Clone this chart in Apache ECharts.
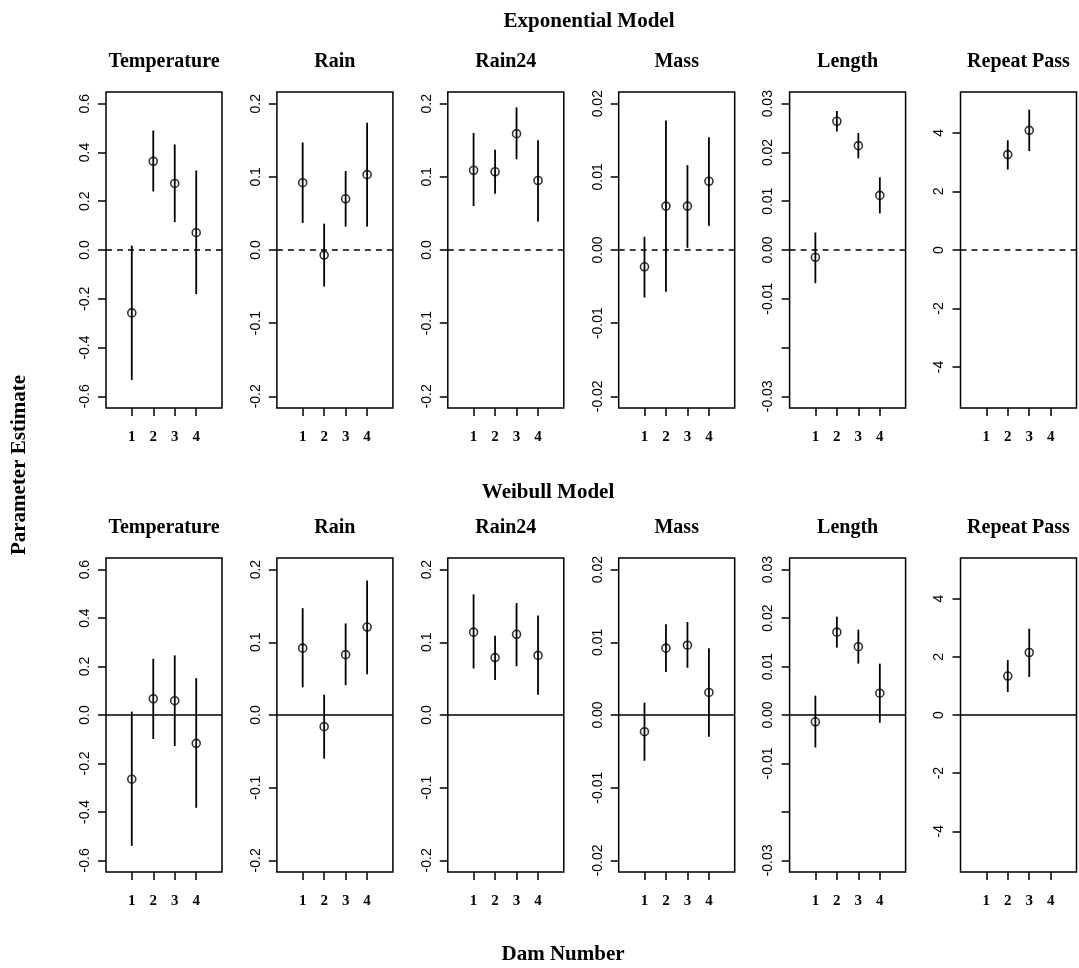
<!DOCTYPE html>
<html>
<head>
<meta charset="utf-8">
<script src="https://cdn.jsdelivr.net/npm/echarts@6/dist/echarts.min.js"></script>
<style>
  html, body { margin: 0; padding: 0; background: #fff; }
  #chart { width: 1079px; height: 968px; }
</style>
</head>
<body>
<div id="chart"></div>
<script>
// Parameters (one panel each) and dam numbers on the x axis
const params = ['Temperature', 'Rain', 'Rain24', 'Mass', 'Length', 'Repeat Pass'];
const dams = [1, 2, 3, 4];

// Y tick values per parameter
const tempTicks = [-0.6, -0.4, -0.2, 0, 0.2, 0.4, 0.6];
const rainTicks = [-0.2, -0.1, 0, 0.1, 0.2];
const rain24Ticks = [-0.2, -0.1, 0, 0.1, 0.2];
const massTicks = [-0.02, -0.01, 0, 0.01, 0.02];
const lengthTicks = [-0.03, -0.02, -0.01, 0, 0.01, 0.02, 0.03];
const lengthLabels = [-0.03, -0.01, 0, 0.01, 0.02, 0.03];
const repeatTicks = [-4, -2, 0, 2, 4];
// Symmetric data limits of each y axis, and label decimals
const yLimits = [0.6, 0.2, 0.2, 0.02, 0.03, 5];
const yDecimals = [1, 1, 1, 2, 2, 0];

// Exponential model: estimate and interval per parameter (rows) and dam (columns)
const expEst = [
  [-0.258, 0.364, 0.273, 0.071],
  [0.092, -0.007, 0.070, 0.103],
  [0.109, 0.107, 0.159, 0.095],
  [-0.0023, 0.0060, 0.0060, 0.0094],
  [-0.0015, 0.0264, 0.0214, 0.0112],
  [null, 3.26, 4.09, null]
];
const expLow = [
  [-0.533, 0.240, 0.114, -0.181],
  [0.037, -0.050, 0.032, 0.032],
  [0.060, 0.077, 0.124, 0.039],
  [-0.0065, -0.0057, 0.0003, 0.0033],
  [-0.0068, 0.0243, 0.0188, 0.0075],
  [null, 2.75, 3.38, null]
];
const expHigh = [
  [0.018, 0.490, 0.433, 0.326],
  [0.147, 0.036, 0.108, 0.174],
  [0.160, 0.137, 0.195, 0.150],
  [0.0018, 0.0177, 0.0116, 0.0154],
  [0.0036, 0.0285, 0.0240, 0.0149],
  [null, 3.75, 4.80, null]
];

// Weibull model
const weiEst = [
  [-0.265, 0.067, 0.059, -0.117],
  [0.092, -0.016, 0.083, 0.121],
  [0.114, 0.079, 0.111, 0.082],
  [-0.0023, 0.0092, 0.0096, 0.0031],
  [-0.0014, 0.0171, 0.0141, 0.0045],
  [null, 1.34, 2.15, null]
];
const weiLow = [
  [-0.540, -0.099, -0.128, -0.383],
  [0.038, -0.060, 0.041, 0.056],
  [0.064, 0.048, 0.067, 0.028],
  [-0.0063, 0.0059, 0.0065, -0.0030],
  [-0.0067, 0.0139, 0.0106, -0.0016],
  [null, 0.79, 1.31, null]
];
const weiHigh = [
  [0.014, 0.232, 0.246, 0.152],
  [0.147, 0.028, 0.126, 0.185],
  [0.166, 0.109, 0.154, 0.137],
  [0.0017, 0.0125, 0.0128, 0.0092],
  [0.0040, 0.0203, 0.0176, 0.0106],
  [null, 1.89, 2.97, null]
];

const yTickSets = [tempTicks, rainTicks, rain24Ticks, massTicks, lengthTicks, repeatTicks];
const yLabelSets = [tempTicks, rainTicks, rain24Ticks, massTicks, lengthLabels, repeatTicks];

const rows = [
  { title: 'Exponential Model', titleX: 589, est: expEst, low: expLow, high: expHigh, top: 92, height: 316, titleY: 22, panelTitleY: 62, zeroDash: [6, 5] },
  { title: 'Weibull Model', titleX: 548, est: weiEst, low: weiLow, high: weiHigh, top: 558, height: 314, titleY: 493, panelTitleY: 528, zeroDash: 'solid' }
];

const panelLeft0 = 106, panelStep = 170.9, panelWidth = 116;
const serif = '"Liberation Serif", "Times New Roman", serif';
const sans = '"Liberation Sans", Arial, sans-serif';

const grids = [], xAxes = [], yAxes = [], series = [], graphics = [];

rows.forEach((row, r) => {
  graphics.push({
    type: 'text', x: row.titleX, y: row.titleY,
    style: { text: row.title, font: 'bold 21px ' + serif, fill: '#000', align: 'center', verticalAlign: 'middle' }
  });
  params.forEach((name, p) => {
    const gi = r * 6 + p;
    const left = panelLeft0 + panelStep * p;
    grids.push({
      left: left, top: row.top, width: panelWidth, height: row.height,
      show: true, borderColor: '#000', borderWidth: 1.5, backgroundColor: '#fff'
    });
    graphics.push({
      type: 'text', x: left + panelWidth / 2, y: row.panelTitleY,
      style: { text: name, font: 'bold 20px ' + serif, fill: '#000', align: 'center', verticalAlign: 'middle' }
    });
    xAxes.push({
      gridIndex: gi, type: 'value', min: -0.2, max: 5.2,
      axisLine: { show: false, onZero: false },
      splitLine: { show: false },
      axisTick: { show: true, length: 8, customValues: dams, lineStyle: { color: '#000', width: 1.5 } },
      axisLabel: { show: true, customValues: dams, margin: 22, color: '#000', fontFamily: serif, fontWeight: 'bold', fontSize: 15 }
    });
    const lim = yLimits[p] * 1.08;
    const dec = yDecimals[p];
    yAxes.push({
      gridIndex: gi, type: 'value', min: -lim, max: lim,
      axisLine: { show: false, onZero: false },
      splitLine: { show: false },
      axisTick: { show: true, length: 8, customValues: yTickSets[p], lineStyle: { color: '#000', width: 1.5 } },
      axisLabel: {
        show: true, customValues: yLabelSets[p], rotate: 90, margin: 14,
        color: '#000', fontFamily: sans, fontSize: 14,
        formatter: v => Number(v).toFixed(dec)
      }
    });

    const points = [], bars = [];
    dams.forEach((d, k) => {
      const e = row.est[p][k];
      if (e === null) return;
      points.push([d, e]);
      bars.push([d, row.low[p][k], row.high[p][k]]);
    });

    series.push({
      type: 'custom', xAxisIndex: gi, yAxisIndex: gi, silent: true,
      data: bars,
      encode: { x: 0, y: [1, 2] },
      renderItem: (info, api) => {
        const x = api.value(0);
        const lo = api.coord([x, api.value(1)]);
        const hi = api.coord([x, api.value(2)]);
        return {
          type: 'line',
          shape: { x1: lo[0], y1: lo[1], x2: hi[0], y2: hi[1] },
          style: { stroke: '#000', lineWidth: 1.8 }
        };
      }
    });
    series.push({
      type: 'scatter', xAxisIndex: gi, yAxisIndex: gi, silent: true,
      data: points, symbol: 'circle', symbolSize: 8,
      itemStyle: { color: 'rgba(0,0,0,0)', borderColor: '#000', borderWidth: 1.6 },
      markLine: {
        silent: true, symbol: 'none', animation: false,
        label: { show: false },
        lineStyle: { color: '#000', width: 1.5, type: row.zeroDash },
        data: [{ yAxis: 0 }]
      }
    });
  });
});

graphics.push({
  type: 'text', x: 20, y: 465, rotation: Math.PI / 2,
  style: { text: 'Parameter Estimate', font: 'bold 21px ' + serif, fill: '#000', align: 'center', verticalAlign: 'middle' }
});
graphics.push({
  type: 'text', x: 563, y: 955,
  style: { text: 'Dam Number', font: 'bold 21px ' + serif, fill: '#000', align: 'center', verticalAlign: 'middle' }
});

const chart = echarts.init(document.getElementById('chart'), null, { renderer: 'canvas' });
chart.setOption({
  animation: false,
  backgroundColor: '#fff',
  grid: grids,
  xAxis: xAxes,
  yAxis: yAxes,
  series: series,
  graphic: graphics
});
</script>
</body>
</html>
